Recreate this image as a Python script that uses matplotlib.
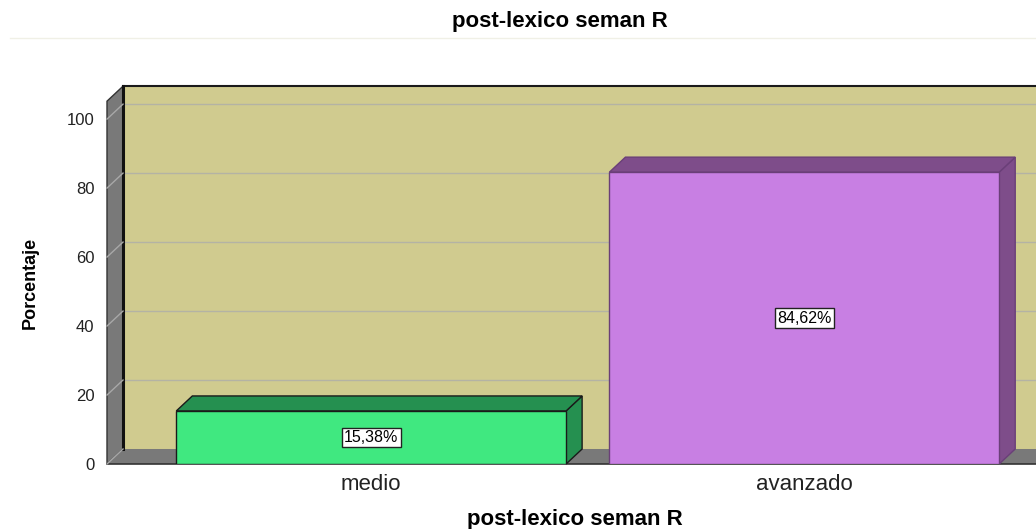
import matplotlib
matplotlib.use('Agg')
import matplotlib.pyplot as plt
from matplotlib.patches import Polygon, Rectangle
from matplotlib.lines import Line2D

# ---- data ----
categories = ["medio", "avanzado"]
percentages = [15.38, 84.62]
value_labels = ["15,38%", "84,62%"]
yticks = [0, 20, 40, 60, 80, 100]

front_colors = ["#40e880", "#c87fe3"]
shade_colors = ["#259050", "#7e4d8a"]
WALL = "#d0cb8f"
SIDE = "#797979"
GRID = "#b4b3a4"

plt.rcParams['font.family'] = ['Liberation Sans', 'DejaVu Sans']

fig = plt.figure(figsize=(10.36, 5.29), dpi=100)
ax = fig.add_axes([107 / 1036, 65 / 529, 929 / 1036, 378 / 529])
x0, x1 = -0.61, 1.535
ymax = 109.6
ax.set_xlim(x0, x1)
ax.set_ylim(0, ymax)
for s in ax.spines.values():
    s.set_visible(False)

dx, dy = 0.037, 4.35      # depth offset of the 3d box
wall_top = 105.2
xr = x1 + 0.2

# back wall
ax.add_patch(Rectangle((x0 + dx, dy), xr - x0, wall_top, facecolor=WALL,
                       edgecolor="none", zorder=1, clip_on=False))
ax.plot([x0 + dx, xr], [wall_top + dy] * 2, color="#1a1a1a", lw=1.5, zorder=2, clip_on=False)
for v in yticks[1:]:
    ax.plot([x0 + dx, xr], [v + dy] * 2, color=GRID, lw=1.0, zorder=2, clip_on=False)

# left wall
ax.add_patch(Polygon([(x0, 0), (x0 + dx, dy), (x0 + dx, wall_top + dy), (x0, wall_top)],
                     closed=True, facecolor=SIDE, edgecolor="#333333", lw=1.0,
                     zorder=3, clip_on=False))
ax.plot([x0 + dx, x0 + dx], [dy, wall_top + dy], color="#111111", lw=2.2, zorder=4, clip_on=False)
for v in yticks[1:]:
    ax.plot([x0, x0 + dx], [v, v + dy], color="#a8a8a8", lw=1.0, zorder=4, clip_on=False)

# floor
ax.add_patch(Polygon([(x0, 0), (xr, 0), (xr + dx, dy), (x0 + dx, dy)], closed=True,
                     facecolor=SIDE, edgecolor="none", zorder=3, clip_on=False))
ax.plot([x0, xr], [0, 0], color="#333333", lw=1.2, zorder=4, clip_on=False)
ax.plot([x0, x0 + dx], [0, dy], color="#a8a8a8", lw=1.0, zorder=4, clip_on=False)

# bars
w = 0.45
for i, (v, fc, sc) in enumerate(zip(percentages, front_colors, shade_colors)):
    ec = "#1a1a1a" if i == 0 else "#6a3f78"
    ax.add_patch(Polygon([(i + w, 0), (i + w + dx, dy), (i + w + dx, v + dy), (i + w, v)],
                         closed=True, facecolor=sc, edgecolor=ec, lw=1.0, zorder=5, clip_on=False))
    ax.add_patch(Polygon([(i - w, v), (i + w, v), (i + w + dx, v + dy), (i - w + dx, v + dy)],
                         closed=True, facecolor=sc, edgecolor=ec, lw=1.0, zorder=5, clip_on=False))
    ax.bar(i, v, width=2 * w, color=fc, edgecolor=ec, lw=1.0, zorder=6)
    ax.text(i, v / 2, value_labels[i], ha="center", va="center", fontsize=11.5, zorder=7,
            bbox=dict(boxstyle="square,pad=0.15", facecolor="white", edgecolor="#222222", lw=1.0))

ax.set_xticks(range(len(categories)), labels=categories)
ax.set_yticks(yticks)
ax.tick_params(axis="x", length=0, pad=7, labelsize=16, labelcolor="#222222")
ax.tick_params(axis="y", length=0, pad=9, labelsize=12, labelcolor="#222222")

fig.text(30 / 1036, 1 - 283 / 529, "Porcentaje", rotation=90,
         ha="center", va="center", fontsize=13, fontweight="bold")
fig.text(560 / 1036, 1 - 22 / 529, "post-lexico seman R", ha="center", va="center",
         fontsize=16, fontweight="bold")
fig.add_artist(Line2D([10 / 1036, 1], [1 - 38 / 529] * 2, color="#f0f0e6", lw=1.0))
fig.text(575 / 1036, 1 - 519 / 529, "post-lexico seman R", ha="center", va="center",
         fontsize=16, fontweight="bold")

fig.savefig("out.png", dpi=100)
